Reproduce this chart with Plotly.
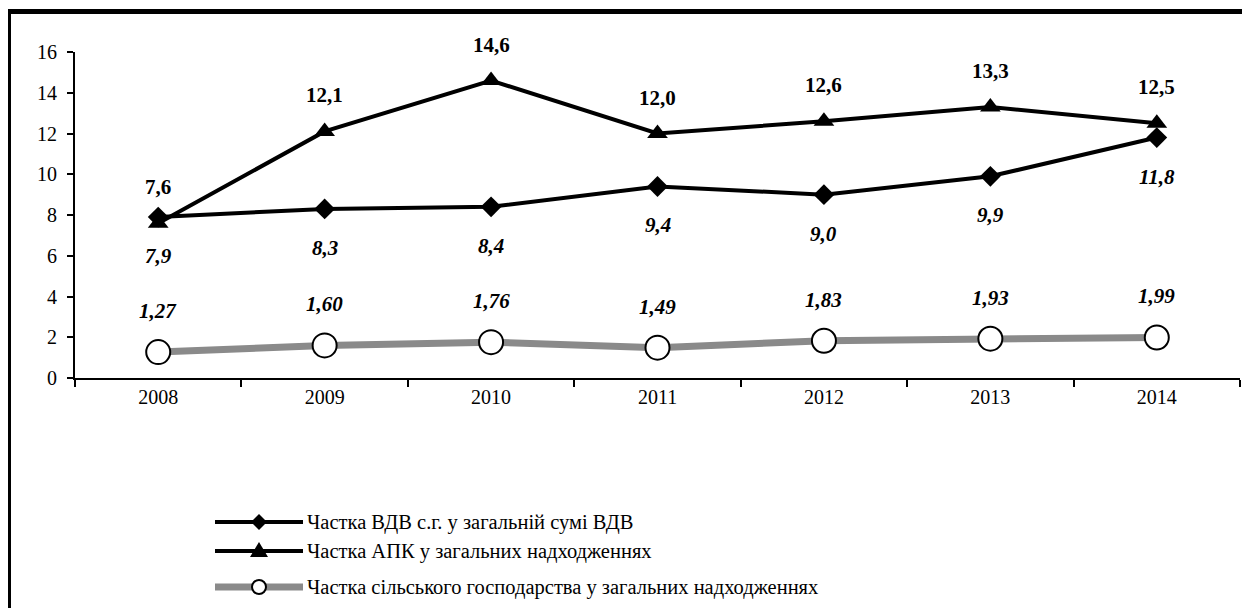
import plotly.graph_objects as go

years = ["2008", "2009", "2010", "2011", "2012", "2013", "2014"]
vdv_share = [7.9, 8.3, 8.4, 9.4, 9.0, 9.9, 11.8]
apk_share = [7.6, 12.1, 14.6, 12.0, 12.6, 13.3, 12.5]
agri_share = [1.27, 1.60, 1.76, 1.49, 1.83, 1.93, 1.99]

vdv_labels = ["7,9", "8,3", "8,4", "9,4", "9,0", "9,9", "11,8"]
apk_labels = ["7,6", "12,1", "14,6", "12,0", "12,6", "13,3", "12,5"]
agri_labels = ["1,27", "1,60", "1,76", "1,49", "1,83", "1,93", "1,99"]

names = [
    "Частка ВДВ с.г. у загальній сумі ВДВ",
    "Частка АПК у загальних надходженнях",
    "Частка сільського господарства у загальних надходженнях",
]

FONT = "Liberation Serif"
# page body has an 8px margin, so the figure is 8px smaller than the window
W, H = 1242, 600
L, R, T, B = 67, 10, 44, 230
PW, PH = W - L - R, H - T - B


def px(x):
    return (x - L) / PW


def py(y):
    return (H - B - y) / PH


GRAY = "#8a8a8a"

fig = go.Figure()

fig.add_trace(go.Scatter(
    x=years, y=agri_share, mode="lines+markers", name=names[2],
    line=dict(color=GRAY, width=7),
    marker=dict(symbol="circle", size=24, color="white", line=dict(color="black", width=2)),
    showlegend=False, cliponaxis=False))
fig.add_trace(go.Scatter(
    x=years, y=vdv_share, mode="lines+markers", name=names[0],
    line=dict(color="black", width=4),
    marker=dict(symbol="diamond", size=16, color="black"),
    showlegend=False, cliponaxis=False))
fig.add_trace(go.Scatter(
    x=years, y=apk_share, mode="lines+markers", name=names[1],
    line=dict(color="black", width=4),
    marker=dict(symbol="triangle-up", size=18, color="black"),
    showlegend=False, cliponaxis=False))

LABEL_SIZE = 21
annotations = []
for i, (y, t) in enumerate(zip(apk_share, apk_labels)):
    annotations.append(dict(x=i, y=y, xref="x", yref="y", text="<b>" + t + "</b>", showarrow=False,
                            yshift=36, font=dict(family=FONT, size=LABEL_SIZE, color="black")))
for i, (y, t) in enumerate(zip(vdv_share, vdv_labels)):
    annotations.append(dict(x=i, y=y, xref="x", yref="y", text="<b><i>" + t + "</i></b>", showarrow=False,
                            yshift=-39, font=dict(family=FONT, size=LABEL_SIZE, color="black")))
for i, (y, t) in enumerate(zip(agri_share, agri_labels)):
    annotations.append(dict(x=i, y=y, xref="x", yref="y", text="<b><i>" + t + "</i></b>", showarrow=False,
                            yshift=41, font=dict(family=FONT, size=LABEL_SIZE, color="black")))

shapes = []
# outer frame (only top and left edges are visible in the window)
shapes.append(dict(type="rect", xref="paper", yref="paper",
                   x0=px(0.5), x1=px(1400), y0=py(800), y1=py(3.5),
                   line=dict(color="black", width=5), fillcolor="rgba(0,0,0,0)", layer="above"))

# custom legend
leg_rows = [514, 543, 579]
lx0, lx1, lxm, ltx = 207, 295, 251, 297
leg_lines = [dict(color="black", width=4), dict(color="black", width=4), dict(color=GRAY, width=7)]
for yrow, ln in zip(leg_rows, leg_lines):
    shapes.append(dict(type="line", xref="paper", yref="paper",
                       x0=px(lx0), x1=px(lx1), y0=py(yrow), y1=py(yrow), line=ln))
# diamond
shapes.append(dict(type="path", xref="paper", yref="paper", xsizemode="pixel", ysizemode="pixel",
                   xanchor=px(lxm), yanchor=py(leg_rows[0]),
                   path="M0,8 L8,0 L0,-8 L-8,0 Z", fillcolor="black", line=dict(color="black", width=0)))
# triangle
shapes.append(dict(type="path", xref="paper", yref="paper", xsizemode="pixel", ysizemode="pixel",
                   xanchor=px(lxm), yanchor=py(leg_rows[1]),
                   path="M-9,-6 L9,-6 L0,9 Z", fillcolor="black", line=dict(color="black", width=0)))
# circle
shapes.append(dict(type="circle", xref="paper", yref="paper", xsizemode="pixel", ysizemode="pixel",
                   xanchor=px(lxm), yanchor=py(leg_rows[2]), x0=-7, x1=7, y0=-7, y1=7,
                   fillcolor="white", line=dict(color="black", width=2)))
for yrow, nm in zip(leg_rows, names):
    annotations.append(dict(x=px(ltx), y=py(yrow), xref="paper", yref="paper", text=nm, showarrow=False,
                            xanchor="left", yanchor="middle",
                            font=dict(family=FONT, size=20.5, color="black")))

fig.update_layout(
    width=W, height=H,
    margin=dict(l=L, r=R, t=T, b=B),
    paper_bgcolor="white", plot_bgcolor="white",
    font=dict(family=FONT, size=20, color="black"),
    annotations=annotations,
    shapes=shapes,
    showlegend=False,
    xaxis=dict(type="category", range=[-0.5, 6.5], showgrid=False, zeroline=False,
               showline=True, linecolor="black", linewidth=2,
               ticks="outside", ticklen=7, tickwidth=2, tickcolor="black",
               tickson="boundaries", tickfont=dict(family=FONT, size=20), fixedrange=True),
    yaxis=dict(range=[0, 16], dtick=2, showgrid=False, zeroline=False,
               showline=True, linecolor="black", linewidth=2,
               ticks="outside", ticklen=6, tickwidth=2, tickcolor="black",
               ticklabelstandoff=6,
               tickfont=dict(family=FONT, size=20), fixedrange=True),
)

fig.write_html("out.html")
